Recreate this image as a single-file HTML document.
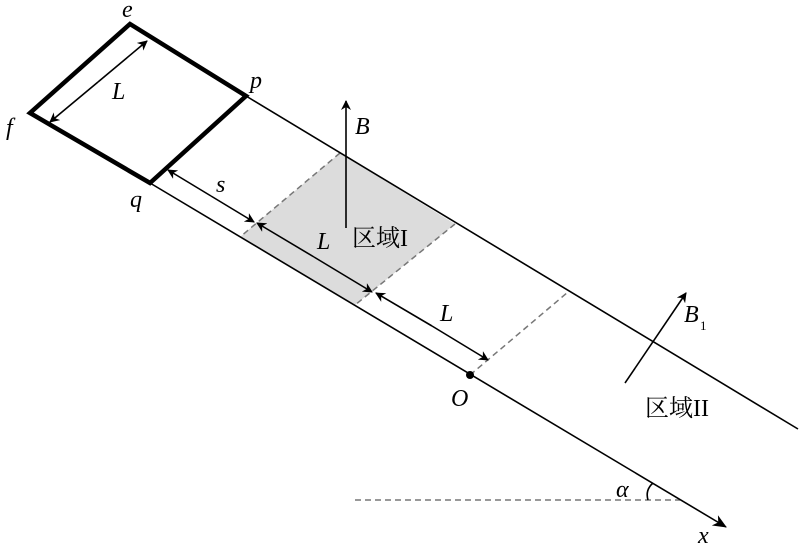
<!DOCTYPE html>
<html><head><meta charset="utf-8"><style>body{margin:0;background:#fff}svg{display:block}</style></head><body>
<svg width="800" height="545" viewBox="0 0 800 545" xmlns="http://www.w3.org/2000/svg">
<defs>
<marker id="a" markerWidth="10" markerHeight="10" refX="9" refY="5" orient="auto" markerUnits="userSpaceOnUse"><path d="M0,0 L10,5 L0,10 L3,5 Z" fill="#000"/></marker>
<marker id="b" markerWidth="14" markerHeight="12" refX="13" refY="6" orient="auto" markerUnits="userSpaceOnUse"><path d="M0,0 L14,6 L0,12 L4,6 Z" fill="#000"/></marker>
</defs>
<polygon points="340,153 455,224 355,305 240,237" fill="#dcdcdc"/>
<g stroke="#777" stroke-width="1.5" stroke-dasharray="6,4" fill="none">
<line x1="340" y1="153" x2="240" y2="237"/>
<line x1="455" y1="224" x2="355" y2="305"/>
<line x1="470" y1="375" x2="568" y2="292"/>
<line x1="355" y1="500" x2="680" y2="500"/>
</g>
<g stroke="#000" stroke-width="1.6" fill="none">
<line x1="246" y1="96" x2="798" y2="429"/>
<line x1="150" y1="183" x2="726" y2="527" marker-end="url(#b)"/>
<path d="M648,500 Q645,490 653,483"/>
<line x1="346" y1="228" x2="346" y2="101" marker-end="url(#a)"/>
<line x1="625" y1="383" x2="686" y2="293" marker-end="url(#a)"/>
<line x1="98" y1="82" x2="147" y2="41" marker-end="url(#a)"/>
<line x1="98" y1="82" x2="50" y2="122" marker-end="url(#a)"/>
<line x1="211" y1="196" x2="168" y2="170" marker-end="url(#a)"/>
<line x1="211" y1="196" x2="254" y2="222" marker-end="url(#a)"/>
<line x1="314" y1="257" x2="257" y2="223" marker-end="url(#a)"/>
<line x1="314" y1="257" x2="372" y2="292" marker-end="url(#a)"/>
<line x1="432" y1="326" x2="376" y2="293" marker-end="url(#a)"/>
<line x1="432" y1="326" x2="488" y2="360" marker-end="url(#a)"/>
</g>
<polygon points="130,24 246,96 150,183 30,113" fill="none" stroke="#000" stroke-width="4.5" stroke-linejoin="miter"/>
<circle cx="470" cy="375" r="4" fill="#000"/>
<g font-family="Liberation Serif, serif" font-style="italic" font-size="24" fill="#000">
<text x="122" y="17">e</text>
<text x="250" y="88">p</text>
<text x="6" y="135">f</text>
<text x="130" y="207">q</text>
<text x="112" y="99">L</text>
<text x="355" y="134">B</text>
<text x="216" y="192">s</text>
<text x="317" y="249">L</text>
<text x="440" y="321">L</text>
<text x="684" y="322">B</text>
<text x="451" y="406">O</text>
<text x="616" y="497">α</text>
<text x="698" y="543">x</text>
</g>
<text x="700" y="330" font-family="Liberation Serif, serif" font-size="13">1</text>
<text x="352" y="246" font-family="Liberation Serif, 'Noto Serif CJK SC', serif" font-size="24">区域I</text>
<text x="645" y="416" font-family="Liberation Serif, 'Noto Serif CJK SC', serif" font-size="24">区域II</text>
</svg>
</body></html>
